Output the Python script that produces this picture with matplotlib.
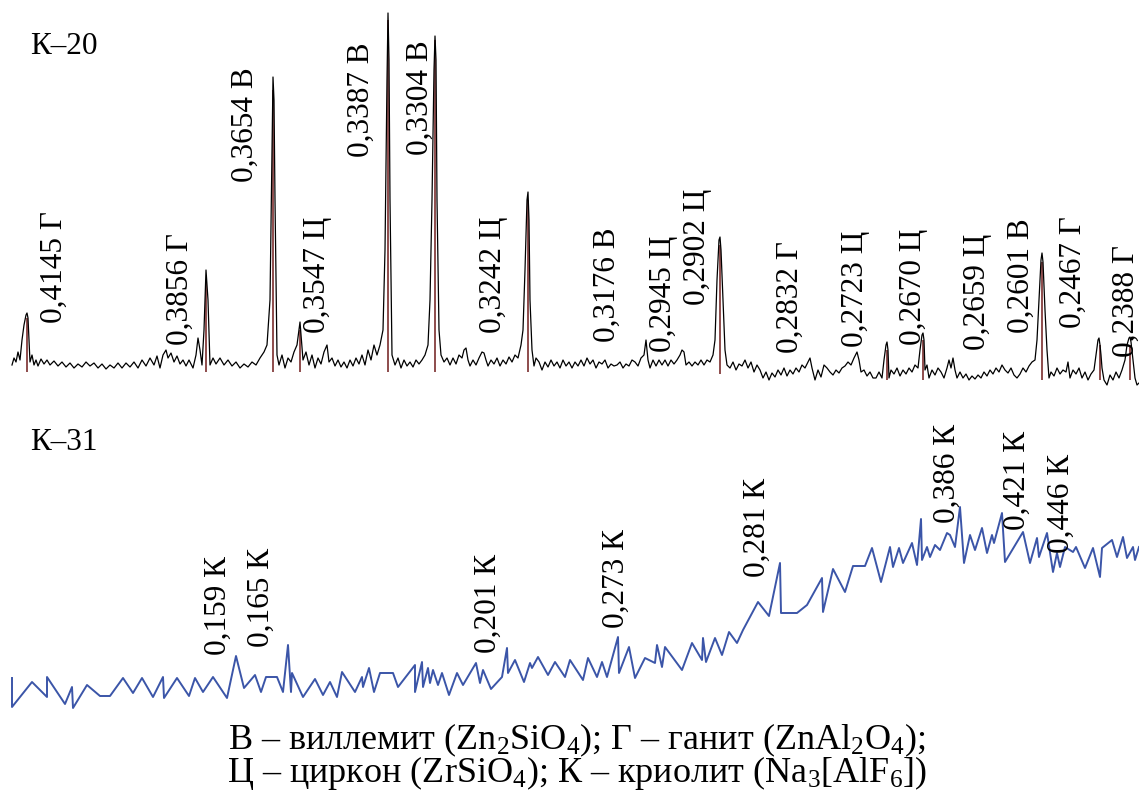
import matplotlib
matplotlib.use('Agg')
import matplotlib.pyplot as plt

plt.rcParams['font.family'] = ['Liberation Serif', 'DejaVu Serif']
plt.rcParams['mathtext.fontset'] = 'custom'
plt.rcParams['mathtext.rm'] = 'Liberation Serif'
plt.rcParams['mathtext.it'] = 'Liberation Serif:italic'

# ── K-20 trace (x position, signal; screen units, larger = lower) ──
k20_x = [12, 14, 16, 18, 20, 22, 24, 26, 27, 28, 29, 30, 32, 34, 36, 38, 41, 44, 47, 50,
         54, 58, 62, 66, 70, 74, 78, 82, 86, 90, 94, 98, 102, 106, 110, 114, 118, 122, 126, 130,
         134, 138, 142, 146, 150, 154, 157, 160, 163, 166, 168, 171, 174, 177, 180, 183, 186, 189, 193, 196,
         198, 200, 202, 204, 206, 208, 210, 213, 216, 220, 224, 228, 232, 236, 240, 244, 248, 252, 256, 260,
         264, 267, 270, 272, 273, 274, 275, 277, 279, 282, 285, 288, 291, 294, 297, 299, 300, 301, 303, 306,
         309, 312, 315, 318, 321, 324, 327, 329, 332, 335, 338, 341, 344, 347, 350, 353, 356, 359, 362, 365,
         368, 371, 374, 377, 380, 383, 385, 387, 388, 389, 390, 392, 395, 398, 401, 404, 407, 410, 413, 416,
         419, 422, 425, 428, 430, 432, 434, 435, 436, 437, 439, 441, 444, 447, 450, 453, 456, 459, 462, 464,
         466, 468, 470, 473, 476, 479, 482, 484, 486, 488, 491, 494, 497, 500, 503, 506, 509, 512, 515, 518,
         521, 523, 525, 527, 528, 529, 530, 532, 534, 536, 539, 542, 545, 548, 551, 554, 557, 560, 563, 566,
         569, 572, 575, 578, 581, 584, 587, 590, 593, 596, 599, 602, 605, 608, 611, 614, 617, 620, 623, 626,
         629, 632, 635, 638, 641, 644, 646, 648, 650, 653, 656, 659, 662, 665, 668, 671, 674, 677, 680, 682,
         684, 686, 689, 692, 695, 698, 701, 704, 707, 710, 713, 715, 717, 719, 720, 721, 723, 725, 727, 730,
         733, 736, 739, 742, 745, 748, 751, 754, 757, 760, 763, 766, 769, 772, 775, 778, 781, 784, 787, 790,
         793, 796, 799, 802, 805, 808, 810, 812, 815, 818, 821, 824, 827, 830, 833, 836, 839, 842, 845, 848,
         851, 854, 857, 859, 861, 864, 867, 870, 873, 876, 879, 882, 884, 886, 887, 888, 889, 891, 894, 897,
         900, 903, 906, 909, 912, 915, 918, 920, 922, 923, 924, 925, 927, 929, 932, 935, 938, 941, 944, 947,
         949, 951, 953, 955, 957, 960, 963, 966, 969, 972, 975, 978, 981, 984, 987, 990, 993, 996, 999, 1002,
         1005, 1008, 1011, 1014, 1017, 1020, 1023, 1026, 1029, 1032, 1035, 1037, 1039, 1041, 1042, 1043, 1045, 1047, 1049, 1051,
         1054, 1057, 1060, 1063, 1066, 1068, 1070, 1073, 1076, 1079, 1082, 1085, 1088, 1091, 1094, 1096, 1098, 1099, 1100, 1101,
         1102, 1104, 1107, 1110, 1113, 1116, 1119, 1122, 1125, 1127, 1129, 1130, 1131, 1133, 1135, 1137, 1139]
k20_y = [365, 358, 362, 352, 360, 340, 325, 315, 313, 318, 340, 362, 355, 365, 360, 366, 359, 364, 360, 365,
         361, 366, 362, 367, 363, 368, 364, 367, 362, 366, 363, 368, 364, 369, 365, 368, 363, 368, 363, 367,
         362, 368, 360, 366, 358, 365, 356, 368, 355, 350, 358, 353, 362, 356, 364, 360, 366, 360, 368, 355,
         338, 350, 365, 330, 270, 300, 365, 358, 364, 358, 365, 360, 366, 362, 368, 364, 367, 362, 365, 358,
         352, 345, 300, 150, 77, 100, 200, 355, 365, 355, 368, 358, 362, 352, 345, 330, 322, 335, 360, 352,
         365, 355, 368, 358, 364, 352, 345, 362, 358, 366, 360, 367, 362, 368, 360, 366, 358, 364, 355, 365,
         350, 360, 345, 355, 345, 330, 250, 80, 13, 60, 200, 355, 365, 358, 368, 360, 366, 362, 367, 360,
         364, 360, 355, 345, 300, 200, 70, 36, 60, 200, 330, 355, 362, 358, 365, 358, 364, 355, 358, 350,
         348, 360, 366, 360, 365, 358, 352, 353, 360, 366, 360, 364, 358, 366, 360, 364, 357, 362, 355, 358,
         345, 330, 270, 200, 192, 220, 300, 350, 366, 358, 362, 370, 362, 367, 360, 366, 362, 368, 360, 366,
         362, 368, 362, 366, 360, 366, 358, 364, 360, 368, 362, 364, 360, 368, 364, 366, 365, 362, 368, 364,
         366, 360, 362, 366, 358, 355, 340, 360, 368, 360, 366, 360, 365, 360, 366, 360, 364, 360, 355, 350,
         352, 365, 362, 366, 362, 365, 360, 365, 360, 362, 355, 340, 280, 240, 237, 250, 300, 350, 365, 368,
         362, 370, 364, 366, 360, 368, 362, 372, 365, 370, 378, 372, 380, 373, 377, 370, 375, 368, 376, 370,
         374, 368, 372, 365, 368, 362, 358, 368, 380, 370, 377, 365, 368, 372, 375, 370, 373, 368, 366, 362,
         365, 358, 352, 360, 372, 370, 376, 372, 378, 378, 372, 378, 360, 345, 342, 350, 378, 370, 374, 368,
         376, 370, 374, 368, 372, 365, 368, 350, 335, 333, 340, 370, 365, 378, 370, 375, 368, 372, 378, 368,
         360, 368, 358, 370, 378, 372, 378, 374, 380, 376, 379, 375, 378, 372, 376, 370, 374, 368, 372, 365,
         370, 373, 368, 375, 378, 374, 368, 372, 366, 362, 360, 340, 300, 260, 253, 262, 310, 350, 378, 372,
         376, 368, 374, 370, 372, 362, 378, 370, 374, 368, 378, 372, 380, 374, 370, 355, 340, 338, 345, 355,
         368, 380, 385, 375, 380, 372, 378, 370, 360, 345, 338, 337, 342, 360, 378, 385, 383]

# reference sticks under the main K-20 peaks
stick_x = [27, 206, 273, 300, 388, 435, 528, 720, 887, 923, 1042, 1100, 1130]
stick_top = [318, 280, 90, 330, 20, 40, 200, 245, 350, 340, 262, 345, 345]
stick_base = [372, 372, 372, 372, 372, 372, 372, 374, 380, 380, 380, 380, 380]

k20_labels = ['0,4145 Г', '0,3856 Г', '0,3654 В', '0,3547 Ц', '0,3387 В', '0,3304 В',
              '0,3242 Ц', '0,3176 В', '0,2945 Ц', '0,2902 Ц', '0,2832 Г', '0,2723 Ц',
              '0,2670 Ц', '0,2659 Ц', '0,2601 В', '0,2467 Г', '0,2388 Г']
k20_lab_x = [54, 180, 245, 318, 361, 420, 493, 607, 663, 698, 790, 856, 913, 977, 1021, 1073, 1126]
k20_lab_y = [323, 345, 182, 333, 157, 155, 333, 342, 352, 305, 353, 347, 345, 350, 333, 328, 357]

# ── K-31 trace ───────────────────────────────────────────────
k31_x = [12, 12, 32, 47, 47, 65, 72, 73, 87, 100, 110, 123, 133, 142, 153, 163, 164, 177, 189,
         195, 203, 213, 227, 236, 244, 255, 261, 266, 277, 283, 288, 291, 292, 303, 315, 323, 330, 337,
         342, 355, 362, 363, 369, 374, 380, 393, 398, 415, 415, 422, 423, 428, 430, 433, 438, 442, 449,
         457, 463, 476, 480, 483, 491, 502, 507, 508, 515, 524, 530, 532, 538, 548, 555, 565, 570, 583,
         588, 597, 602, 607, 618, 619, 629, 635, 645, 655, 657, 662, 665, 682, 692, 702, 703, 706, 715,
         722, 729, 737, 743, 758, 769, 780, 781, 797, 807, 822, 823, 833, 845, 853, 865, 872, 881, 890,
         893, 899, 903, 912, 917, 921, 922, 927, 930, 935, 940, 947, 950, 955, 960, 964, 970, 975, 982,
         987, 992, 994, 1002, 1005, 1023, 1030, 1037, 1039, 1047, 1053, 1057, 1060, 1065, 1073, 1076, 1085,
         1093, 1100, 1102, 1112, 1117, 1123, 1127, 1133, 1135, 1139]
k31_y = [678, 707, 682, 697, 677, 704, 687, 708, 685, 696, 696, 678, 693, 678, 697, 677, 698, 678, 696,
         678, 692, 677, 698, 656, 688, 675, 692, 677, 677, 692, 645, 692, 673, 697, 679, 695, 682, 697,
         672, 692, 677, 687, 668, 692, 673, 673, 687, 665, 692, 662, 687, 668, 683, 670, 685, 673, 695,
         673, 685, 663, 683, 670, 689, 677, 648, 673, 660, 682, 663, 668, 657, 675, 662, 677, 660, 680,
         658, 677, 662, 677, 637, 673, 647, 678, 658, 663, 645, 667, 647, 670, 643, 660, 638, 662, 638,
         655, 632, 643, 630, 602, 616, 563, 613, 613, 605, 578, 612, 569, 592, 566, 566, 548, 582, 547,
         567, 548, 563, 543, 565, 519, 560, 547, 557, 545, 550, 533, 535, 547, 507, 563, 535, 550, 528,
         553, 535, 543, 513, 562, 532, 563, 538, 557, 533, 572, 553, 567, 547, 552, 547, 568,
         548, 577, 548, 540, 557, 537, 558, 547, 560, 547]

k31_labels = ['0,159 К', '0,165 К', '0,201 К', '0,273 К', '0,281 К', '0,386 К', '0,421 К', '0,446 К']
k31_lab_x = [218, 261, 488, 616, 757, 947, 1017, 1061]
k31_lab_y = [655, 647, 653, 628, 577, 523, 530, 553]

legend_lines = ['В – виллемит (Zn$_2$SiO$_4$); Г – ганит (ZnAl$_2$O$_4$);',
                'Ц – циркон (ZrSiO$_4$); К – криолит (Na$_3$[AlF$_6$])']

# ── Figure ───────────────────────────────────────────────────
fig = plt.figure(figsize=(11.39, 7.92), dpi=100)
ax = fig.add_axes([0, 0, 1, 1])
ax.set_xlim(0, 1139)
ax.set_ylim(792, 0)
ax.axis('off')

ax.vlines(stick_x, stick_top, stick_base, color='#7a2d2d', linewidth=1.2)
ax.plot(k20_x, k20_y, color='black', linewidth=0.9)
ax.plot(k31_x, k31_y, color='#3b55a8', linewidth=1.4)

fs = 22.5
for lab, x, y in zip(k20_labels, k20_lab_x, k20_lab_y):
    ax.text(x, y, lab, rotation=90, ha='center', va='bottom', fontsize=fs)
for lab, x, y in zip(k31_labels, k31_lab_x, k31_lab_y):
    ax.text(x, y, lab, rotation=90, ha='center', va='bottom', fontsize=fs)

ax.text(30, 47, 'К–20', fontsize=fs, va='center', ha='left')
ax.text(30, 442, 'К–31', fontsize=fs, va='center', ha='left')

ax.text(577, 757, '\n'.join(legend_lines), fontsize=26, ha='center', va='center',
        linespacing=0.82, multialignment='center')

plt.savefig('out.png', dpi=100)
plt.close()
